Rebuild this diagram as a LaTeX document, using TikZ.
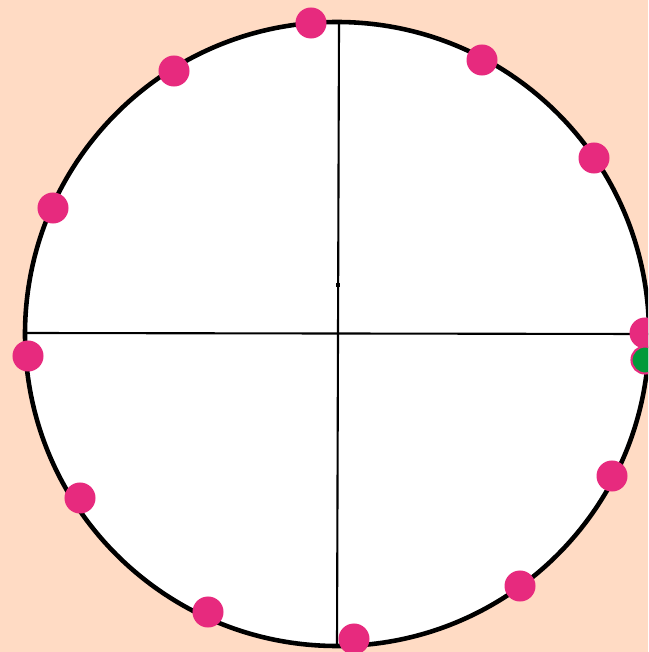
\documentclass[tikz,border=0pt]{standalone}
\definecolor{peach}{RGB}{255,219,196}
\definecolor{dotpink}{RGB}{231,42,126}
\definecolor{dotgreen}{RGB}{0,154,58}
\tikzset{
  pt/.style={circle,fill=dotpink,inner sep=0pt,minimum size=0.31cm},
  gpt/.style={circle,fill=dotgreen,draw=dotpink,line width=0.6pt,inner sep=0pt,minimum size=0.27cm}
}
\begin{document}
\begin{tikzpicture}[x=0.01cm,y=-0.01cm]
      \fill[peach] (0,0) rectangle (648,652);
      \useasboundingbox (0,0) rectangle (648,652);
      \begin{scope}
        \clip (0,0) rectangle (648,652);
        \draw[fill=white,line width=1.3pt] (337,334) circle (312);
        \coordinate (top) at (339,23);
        \coordinate (bot) at (337,645);
        \coordinate (lft) at (25,333);
        \coordinate (rgt) at (648,334);
        \draw[line width=0.6pt] (top) -- (bot);
        \draw[line width=0.6pt] (lft) -- (rgt);
        \fill (336,283) rectangle (340,287);
        \foreach \n/\x/\y in {a/311/23,b/482/60,c/594/158,d/645/333,e/612/476,f/520/586,
                              g/354/639,h/208/612,i/80/498,j/28/356,k/53/208,l/174/71} {
          \node[pt] (p\n) at (\x,\y) {};
        }
        \node[gpt] (q) at (645,360) {};
      \end{scope}
    \end{tikzpicture}
\end{document}
